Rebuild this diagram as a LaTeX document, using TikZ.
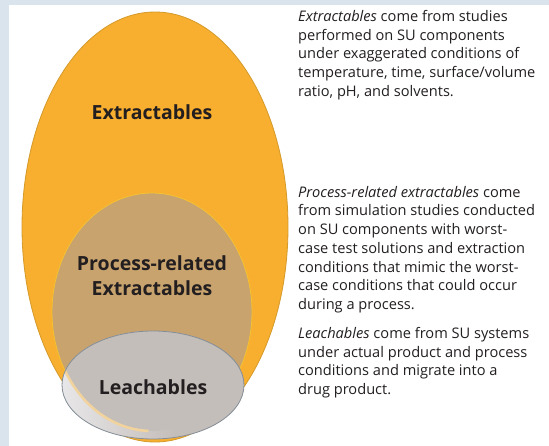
\documentclass[tikz,border=0pt]{standalone}
\usepackage{fontspec}
\setmainfont{Open Sans}
\definecolor{FrameBlue}{HTML}{D9E4EC}
\definecolor{ExtOrange}{HTML}{F8AE2E}
\definecolor{ExtEdge}{HTML}{D49A2A}
\definecolor{ProcTan}{HTML}{C8A36E}
\definecolor{ProcEdge}{HTML}{F6C232}
\definecolor{LeachGray}{HTML}{C4BEBA}
\definecolor{LeachPale}{HTML}{E9E8EA}
\definecolor{LeachGlow}{HTML}{F2D39C}
\definecolor{LeachEdge}{HTML}{858E97}
\definecolor{InkDark}{HTML}{231F20}
\begin{document}
\begin{tikzpicture}[x=1pt,y=-1pt]
\tikzstyle{setlbl}=[font=\bfseries\fontsize{19.5}{25}\selectfont,text=InkDark,align=center]
\tikzstyle{note}=[font=\fontsize{14.6}{18.7}\selectfont,text=InkDark,align=left,anchor=north west,inner sep=0pt]
\useasboundingbox (0,0) rectangle (549,446);
\fill[FrameBlue] (0,0) rectangle (549,446);
\fill[white] (9,5) rectangle (549,446);
% nested sets
\coordinate (ext) at (155,227);
\coordinate (proc) at (152,312);
\coordinate (leach) at (153,385);
\filldraw[fill=ExtOrange,draw=ExtEdge,line width=0.8pt] (ext) ellipse [x radius=133,y radius=215];
\filldraw[fill=ProcTan,draw=ProcEdge,line width=0.8pt] (proc) ellipse [x radius=100,y radius=119];
\fill[LeachGray] (leach) ellipse [x radius=91,y radius=54];
\begin{scope}
\clip (leach) ellipse [x radius=91,y radius=54];
\shade[left color=LeachPale,right color=LeachGray] (58,320) rectangle (175,446);
\fill[LeachGray] (proc) ellipse [x radius=100,y radius=119];
\draw[LeachGlow,line width=2.5pt] (proc) ++(155:100 and 119) arc [start angle=155,end angle=92,x radius=100,y radius=119];
\end{scope}
\draw[LeachEdge,line width=0.8pt] (leach) ellipse [x radius=91,y radius=54];
% set names
\node[setlbl] (extlbl) at (152,112) {Extractables};
\node[setlbl] (proclbl) at (152,276) {Process-related\\Extractables};
\node[setlbl] (leachlbl) at (153,387) {Leachables};
% notes on the right
\node[note] (extnote) at (298,10) {\textit{Extractables} come from studies\\performed on SU components\\under exaggerated conditions of\\temperature, time, surface/volume\\ratio, pH, and solvents.};
\node[note] (procnote) at (298,186) {\textit{Process-related extractables} come\\from simulation studies conducted\\on SU components with worst-\\case test solutions and extraction\\conditions that mimic the worst-\\case conditions that could occur\\during a process.};
\node[note] (leachnote) at (298,327) {\textit{Leachables} come from SU systems\\under actual product and process\\conditions and migrate into a\\drug product.};
\end{tikzpicture}
\end{document}
